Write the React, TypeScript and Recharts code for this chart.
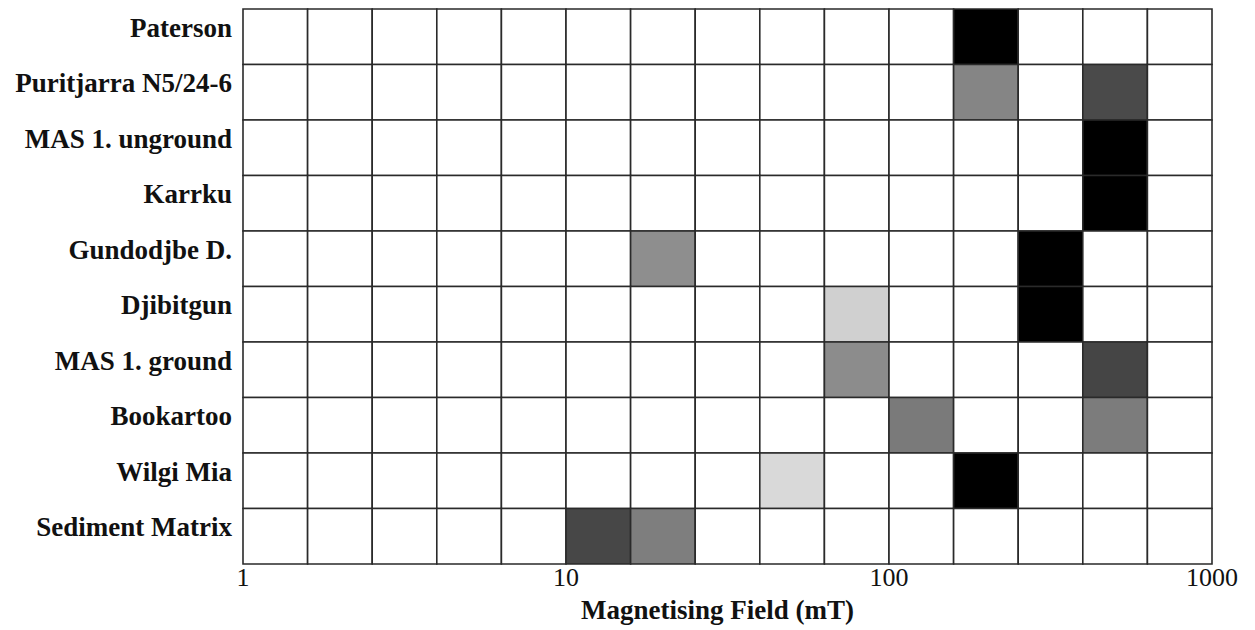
import { ComposedChart, XAxis, YAxis, ReferenceArea, Scatter } from 'recharts'

const samples = [
  'Paterson',
  'Puritjarra N5/24-6',
  'MAS 1. unground',
  'Karrku',
  'Gundodjbe D.',
  'Djibitgun',
  'MAS 1. ground',
  'Bookartoo',
  'Wilgi Mia',
  'Sediment Matrix',
]

// bin edges of the magnetising field (mT), five per decade
const fieldBins = [1, 1.585, 2.512, 3.981, 6.31, 10, 15.85, 25.12, 39.81, 63.1, 100, 158.5, 251.2, 398.1, 631, 1000]
const fieldTicks = [1, 10, 100, 1000]

// per sample: which bins are shaded and their grey level (0 = black)
const shadedBins: number[][] = [[11], [11, 13], [13], [13], [6, 12], [9, 12], [9, 13], [10, 13], [8, 11], [5, 6]]
const shadeLevels: number[][] = [
  [0],
  [133, 74],
  [0],
  [0],
  [142, 0],
  [208, 0],
  [140, 69],
  [122, 124],
  [217, 0],
  [71, 126],
]

const serif = '"Liberation Serif", "Times New Roman", serif'

const grey = (v: number) => `rgb(${v},${v},${v})`

function SampleTick({ x, y, payload }: { x?: number; y?: number; payload?: { value: number } }) {
  const idx = Math.floor(payload?.value ?? 0)
  return (
    <text
      x={x}
      y={y}
      dy={-9}
      textAnchor="end"
      dominantBaseline="central"
      fontFamily={serif}
      fontWeight="bold"
      fontSize={27}
      fill="#111"
    >
      {samples[idx]}
    </text>
  )
}

export default function App() {
  const cells = samples.flatMap((_, row) =>
    fieldBins.slice(0, -1).map((from, col) => {
      const k = shadedBins[row].indexOf(col)
      return {
        row,
        from,
        to: fieldBins[col + 1],
        fill: k >= 0 ? grey(shadeLevels[row][k]) : '#fff',
      }
    }),
  )
  const centers = cells.map((c) => ({ x: Math.sqrt(c.from * c.to), y: c.row + 0.5 }))

  return (
    <div style={{ width: 1239, height: 620, background: '#fff' }}>
      <ComposedChart width={1239} height={620} data={centers} margin={{ top: 1, right: 35, bottom: 0, left: 0 }}>
        <XAxis
          type="number"
          dataKey="x"
          scale="log"
          domain={[1, 1000]}
          ticks={fieldTicks}
          interval={0}
          allowDataOverflow
          axisLine={false}
          tickLine={false}
          tickSize={0}
          tickMargin={4}
          height={64}
          tick={{ fontFamily: serif, fontSize: 26, fill: '#111' }}
          label={{
            value: 'Magnetising Field (mT)',
            position: 'insideBottom',
            offset: 9,
            dx: -10,
            fontFamily: serif,
            fontWeight: 'bold',
            fontSize: 27,
            fill: '#111',
          }}
        />
        <YAxis
          type="number"
          dataKey="y"
          domain={[0, 10]}
          reversed
          ticks={samples.map((_, i) => i + 0.5)}
          interval={0}
          width={235}
          axisLine={false}
          tickLine={false}
          tickSize={0}
          tickMargin={11}
          tick={<SampleTick />}
        />
        {cells.map((c, i) => (
          <ReferenceArea
            key={i}
            x1={c.from}
            x2={c.to}
            y1={c.row}
            y2={c.row + 1}
            fill={c.fill}
            fillOpacity={1}
            stroke="#2a2a2a"
            strokeWidth={1.6}
            strokeOpacity={1}
          />
        ))}
        <Scatter dataKey="y" isAnimationActive={false} shape={() => <g />} />
      </ComposedChart>
    </div>
  )
}
